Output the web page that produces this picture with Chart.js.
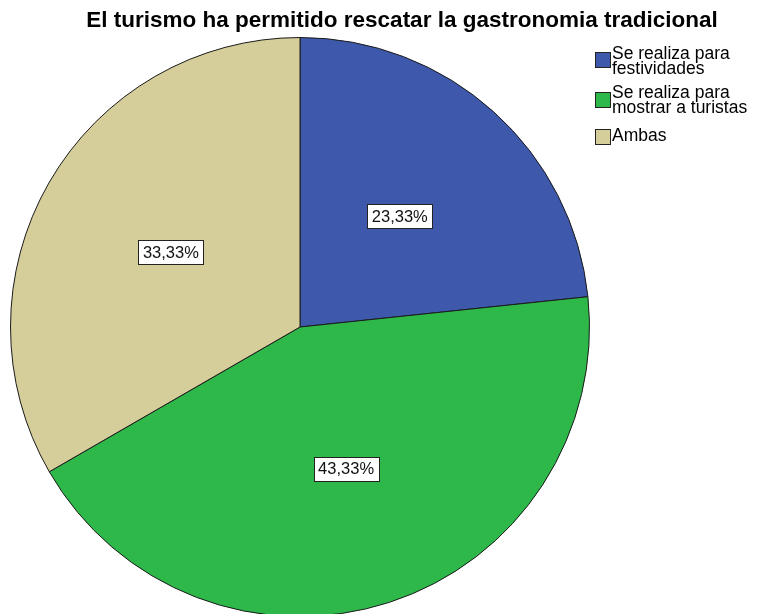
<!DOCTYPE html>
<html>
<head>
<meta charset="utf-8">
<script src="https://cdn.jsdelivr.net/npm/chart.js@4"></script>
<style>
html,body{margin:0;padding:0;background:#fff;overflow:hidden;}
#wrap{position:absolute;left:0;top:0;width:761px;height:620px;}
</style>
</head>
<body>
<div id="wrap"><canvas id="c" width="761" height="620"></canvas></div>
<script>
const titleText = 'El turismo ha permitido rescatar la gastronomia tradicional';
const categories = ['Se realiza para festividades', 'Se realiza para mostrar a turistas', 'Ambas'];
const legendLines = [['Se realiza para', 'festividades'], ['Se realiza para', 'mostrar a turistas'], ['Ambas']];
const values = [23.33, 43.33, 33.33];
const colors = ['#3E58AC', '#2EB84A', '#D5CD9A'];

const FONT = '"Liberation Sans", Arial, sans-serif';

const decorations = {
  id: 'decorations',
  afterDatasetsDraw(chart) {
    const ctx = chart.ctx;
    const meta = chart.getDatasetMeta(0);
    ctx.save();
    // value labels
    ctx.font = '16.5px ' + FONT;
    ctx.textAlign = 'center';
    ctx.textBaseline = 'middle';
    meta.data.forEach((arc, i) => {
      const p = arc.getProps(['x', 'y', 'startAngle', 'endAngle', 'outerRadius'], true);
      const mid = (p.startAngle + p.endAngle) / 2;
      const r = p.outerRadius * 0.515;
      const cx = p.x + Math.cos(mid) * r;
      const cy = p.y + Math.sin(mid) * r;
      const txt = values[i].toFixed(2).replace('.', ',') + '%';
      const w = Math.round(ctx.measureText(txt).width) + 9;
      const h = 24;
      const bx = Math.round(cx - w / 2) + 0.5, by = Math.round(cy - h / 2) + 0.5;
      ctx.fillStyle = '#fff';
      ctx.fillRect(bx, by, w, h);
      ctx.strokeStyle = '#222';
      ctx.lineWidth = 1;
      ctx.strokeRect(bx, by, w, h);
      ctx.fillStyle = '#111';
      ctx.fillText(txt, cx, cy + 1);
    });
    // title
    ctx.font = 'bold 22.5px ' + FONT;
    ctx.textAlign = 'center';
    ctx.textBaseline = 'alphabetic';
    ctx.fillStyle = '#000';
    ctx.fillText(titleText, 402, 27);
    // legend
    ctx.font = '17.5px ' + FONT;
    ctx.textAlign = 'left';
    const boxTops = [52, 92, 129];
    const textBases = [59, 98, 141];
    legendLines.forEach((lines, i) => {
      ctx.fillStyle = colors[i];
      ctx.fillRect(595.5, boxTops[i] + 0.5, 15, 15);
      ctx.strokeStyle = '#222';
      ctx.strokeRect(595.5, boxTops[i] + 0.5, 15, 15);
      ctx.fillStyle = '#000';
      lines.forEach((ln, j) => ctx.fillText(ln, 612, textBases[i] + j * 15));
    });
    ctx.restore();
  }
};

new Chart(document.getElementById('c'), {
  type: 'pie',
  data: {
    labels: categories,
    datasets: [{
      data: values,
      backgroundColor: colors,
      borderColor: '#1a1a1a',
      borderWidth: 1
    }]
  },
  options: {
    responsive: false,
    animation: false,
    devicePixelRatio: 1,
    layout: { padding: { top: 37, left: 10, right: 171, bottom: 3 } },
    plugins: {
      legend: { display: false },
      title: { display: false },
      tooltip: { enabled: false }
    }
  },
  plugins: [decorations]
});
</script>
</body>
</html>
